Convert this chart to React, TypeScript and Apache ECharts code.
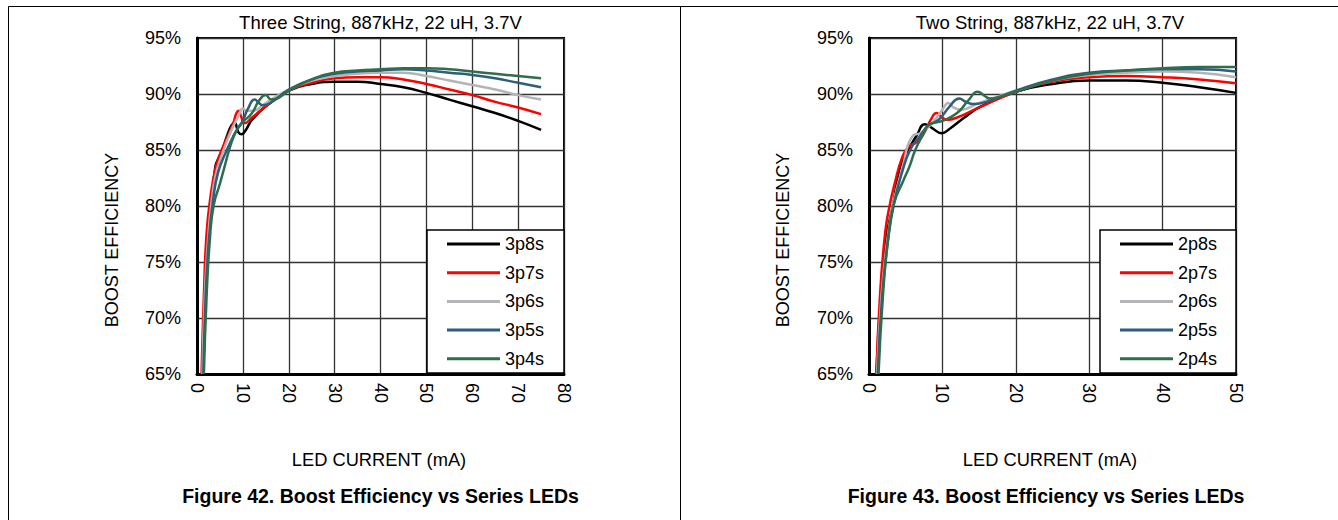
import React, { useEffect, useRef } from "react";
import * as echarts from "echarts";

const FONT = '"Liberation Sans", Arial, Helvetica, sans-serif';

const leftTitle = "Three String, 887kHz, 22 uH, 3.7V";
const rightTitle = "Two String, 887kHz, 22 uH, 3.7V";
const xAxisTitle = "LED CURRENT (mA)";
const yAxisTitle = "BOOST EFFICIENCY";
const leftCaption = "Figure 42. Boost Efficiency vs Series LEDs";
const rightCaption = "Figure 43. Boost Efficiency vs Series LEDs";

const leftNames = ["3p8s", "3p7s", "3p6s", "3p5s", "3p4s"];
const rightNames = ["2p8s", "2p7s", "2p6s", "2p5s", "2p4s"];
const colors = ["#000000", "#ff0000", "#b4b4b4", "#2f5d7c", "#2e6e4f"];

const leftXMax = 80;
const rightXMax = 50;
const yMin = 65;
const yMax = 95;

// Three string (left)
const s3p8 = [[1.2,65],[1.8,72],[2.5,77],[3.2,80.5],[4.0,83.5],[4.6,84.2],[5.5,85],[6.5,86.2],[7.5,87.2],[8.2,87.4],[9.0,86.6],[9.7,86.4],[10.5,86.7],[12,87.7],[15,88.9],[20,90.3],[25,90.9],[30,91.1],[35,91.1],[40,90.9],[45,90.6],[50,90.1],[55,89.5],[60,88.9],[65,88.3],[70,87.6],[75,86.8]];
const s3p7 = [[1.0,65],[1.5,72],[2.1,77.6],[3,81],[4,83.3],[5,84.6],[6,85.6],[7,86.5],[8,87.5],[8.6,88.3],[9.1,88.5],[9.6,88],[10.4,87.4],[12,87.9],[15,88.9],[20,90.3],[25,91.0],[30,91.4],[35,91.5],[40,91.5],[45,91.3],[50,90.9],[55,90.4],[60,89.9],[65,89.3],[70,88.8],[75,88.2]];
const s3p6 = [[1.2,65],[1.7,72],[2.4,77],[3.2,80.5],[4.2,83],[5.8,85],[7,86.3],[8,87.2],[9,88],[10,88.7],[10.8,88.5],[12,88.5],[15,89.2],[20,90.4],[25,91.2],[30,91.6],[35,91.8],[40,91.9],[45,91.9],[50,91.6],[55,91.2],[60,90.8],[65,90.4],[70,89.9],[75,89.5]];
const s3p5 = [[1.4,65],[1.9,72],[2.6,77],[3.5,80.5],[4.6,83],[6.5,85],[8,86.3],[9,87],[10,87.6],[11,88.6],[12.6,89.5],[13.5,89.2],[14.3,89.0],[16,89.2],[20,90.4],[25,91.3],[30,91.8],[35,92.0],[40,92.1],[45,92.2],[50,92.1],[55,91.9],[60,91.7],[65,91.4],[70,91.0],[75,90.6]];
const s3p4 = [[1.5,65],[2.1,72],[2.8,77],[3.6,80],[5,82],[6,83.5],[7,85],[8,86.2],[9,87],[10,87.5],[12,88.3],[13.5,89.4],[15,89.9],[16.2,89.5],[17.5,89.6],[20,90.3],[25,91.3],[30,91.9],[35,92.1],[40,92.2],[45,92.3],[50,92.3],[55,92.2],[60,92.0],[65,91.8],[70,91.6],[75,91.4]];

// Two string (right)
const s2p8 = [[1.0,65],[1.6,72],[2.3,77],[3.3,80.2],[4.0,82.8],[4.5,84],[5.5,85.2],[6.5,86.3],[7.6,87.3],[8.5,87],[9.9,86.5],[11,86.9],[13,87.9],[15,88.8],[20,90.2],[25,90.9],[30,91.2],[35,91.2],[40,91.0],[45,90.6],[50,90.1]];
const s2p7 = [[1.0,65],[1.5,72],[2.2,77.6],[2.8,80],[3.5,82],[4.5,84.3],[5.4,85.3],[6.5,85.7],[7.5,86.5],[8.5,87.8],[9.2,88.3],[9.8,88],[10.6,87.7],[12,87.9],[15,88.8],[20,90.2],[25,91.1],[30,91.5],[35,91.6],[40,91.5],[45,91.3],[50,90.95]];
const s2p6 = [[1.1,65],[1.7,72],[2.5,77],[3.3,80.2],[4.5,83.3],[6.0,86.3],[7,86.5],[8.5,87.3],[10,88.6],[10.8,89.2],[11.5,88.8],[12.5,88.6],[15,89.2],[20,90.3],[25,91.2],[30,91.7],[35,91.9],[40,92.0],[45,91.9],[50,91.5]];
const s2p5 = [[1.2,65],[1.8,72],[2.6,77],[3.4,80.2],[4.5,83],[5.6,85],[7,86.3],[8.1,87.2],[9.5,87.7],[11,88.9],[12.3,89.6],[13.2,89.3],[14.2,89.1],[16,89.3],[20,90.3],[25,91.3],[30,91.9],[35,92.1],[40,92.2],[45,92.2],[50,92.0]];
const s2p4 = [[1.3,65],[1.9,72],[2.6,77],[3.4,80.2],[4.7,82.3],[5.5,83.5],[6.3,85],[7.3,86.3],[8.1,87.2],[10,87.6],[12,88.3],[13.5,89.4],[14.8,90.2],[15.8,89.8],[16.5,89.6],[18.5,89.9],[20,90.2],[25,91.2],[30,91.8],[35,92.1],[40,92.3],[45,92.4],[50,92.4]];

const leftData = [s3p8, s3p7, s3p6, s3p5, s3p4];
const rightData = [s2p8, s2p7, s2p6, s2p5, s2p4];

const G1 = { left: 197, top: 38, width: 367, height: 336 };
const G2 = { left: 869, top: 38, width: 367, height: 336 };

function xAxisCfg(gridIndex: number, max: number) {
  return {
    type: "value",
    gridIndex,
    min: 0,
    max,
    interval: 10,
    axisLine: { show: true, onZero: false, lineStyle: { color: "#000", width: 3 } },
    axisTick: { show: false },
    axisLabel: { rotate: -90, margin: 9, fontSize: 18, fontFamily: FONT, color: "#000" },
    splitLine: { show: true, lineStyle: { color: "#333", width: 1.3 } },
  };
}
function yAxisCfg(gridIndex: number) {
  return {
    type: "value",
    gridIndex,
    min: yMin,
    max: yMax,
    interval: 5,
    axisLine: { show: true, lineStyle: { color: "#000", width: 3 } },
    axisTick: { show: false },
    axisLabel: { margin: 16, fontSize: 18, fontFamily: FONT, color: "#000", formatter: "{value}%" },
    splitLine: { show: true, lineStyle: { color: "#333", width: 1.3 } },
  };
}

function text(x: number, y: number, t: string, size: number, bold = false, rotation = 0) {
  return {
    type: "text",
    x,
    y,
    rotation,
    z: 10,
    style: {
      text: t,
      fontSize: size,
      fontFamily: FONT,
      fontWeight: bold ? "bold" : "normal",
      fill: "#000",
      textAlign: "center",
      textVerticalAlign: "middle",
    },
  };
}

export default function App() {
  const ref = useRef<HTMLDivElement>(null);
  useEffect(() => {
    if (!ref.current) return;
    const chart = echarts.init(ref.current, undefined, { renderer: "svg" });
    const series: any[] = [];
    leftData.forEach((d, i) => {
      series.push({
        type: "line", name: leftNames[i], xAxisIndex: 0, yAxisIndex: 0, data: d,
        symbol: "none", smooth: 0.5, clip: true,
        lineStyle: { color: colors[i], width: 2.5 }, itemStyle: { color: colors[i] }, z: 2 + i,
      });
    });
    rightData.forEach((d, i) => {
      series.push({
        type: "line", name: rightNames[i], xAxisIndex: 1, yAxisIndex: 1, data: d,
        symbol: "none", smooth: 0.5, clip: true,
        lineStyle: { color: colors[i], width: 2.5 }, itemStyle: { color: colors[i] }, z: 2 + i,
      });
    });
    const legendCommon = {
      orient: "vertical",
      top: 235,
      padding: 0,
      icon: "rect",
      itemWidth: 53,
      itemHeight: 3,
      itemGap: 10.7,
      selectedMode: false,
      z: 20,
      textStyle: { fontSize: 18, lineHeight: 18, fontFamily: FONT, color: "#000" },
    };
    chart.setOption({
      animation: false,
      backgroundColor: "#fff",
      grid: [
        { ...G1, show: true, borderColor: "#000", borderWidth: 2, backgroundColor: "transparent" },
        { ...G2, show: true, borderColor: "#000", borderWidth: 2, backgroundColor: "transparent" },
      ],
      xAxis: [xAxisCfg(0, leftXMax), xAxisCfg(1, rightXMax)],
      yAxis: [yAxisCfg(0), yAxisCfg(1)],
      legend: [
        { ...legendCommon, left: 447, data: leftNames },
        { ...legendCommon, left: 1120, data: rightNames },
      ],
      graphic: [
        { type: "line", z: 1, shape: { x1: 8.5, y1: 6.5, x2: 1338, y2: 6.5 }, style: { stroke: "#000", lineWidth: 1 } },
        { type: "line", z: 1, shape: { x1: 8.5, y1: 6.5, x2: 8.5, y2: 530 }, style: { stroke: "#000", lineWidth: 1 } },
        { type: "line", z: 1, shape: { x1: 680.5, y1: 6.5, x2: 680.5, y2: 530 }, style: { stroke: "#000", lineWidth: 1 } },
        { type: "rect", z: 15, shape: { x: 427, y: 230, width: 137, height: 143 }, style: { fill: "#fff", stroke: "#000", lineWidth: 1.5 } },
        { type: "rect", z: 15, shape: { x: 1100, y: 230, width: 136, height: 143 }, style: { fill: "#fff", stroke: "#000", lineWidth: 1.5 } },
        text(380.5, 22, leftTitle, 18.5),
        text(1050, 22, rightTitle, 18.5),
        text(112, 240, yAxisTitle, 18, false, Math.PI / 2),
        text(783, 240, yAxisTitle, 18, false, Math.PI / 2),
        text(379, 459, xAxisTitle, 18.3),
        text(1050, 459, xAxisTitle, 18.3),
        text(380.5, 496, leftCaption, 19.5, true),
        text(1046, 496, rightCaption, 19.5, true),
      ],
      series,
    });
    return () => chart.dispose();
  }, []);
  return (
    <div
      ref={ref}
      style={{ position: "absolute", left: 0, top: 0, width: 1338, height: 520, background: "#fff" }}
    />
  );
}
